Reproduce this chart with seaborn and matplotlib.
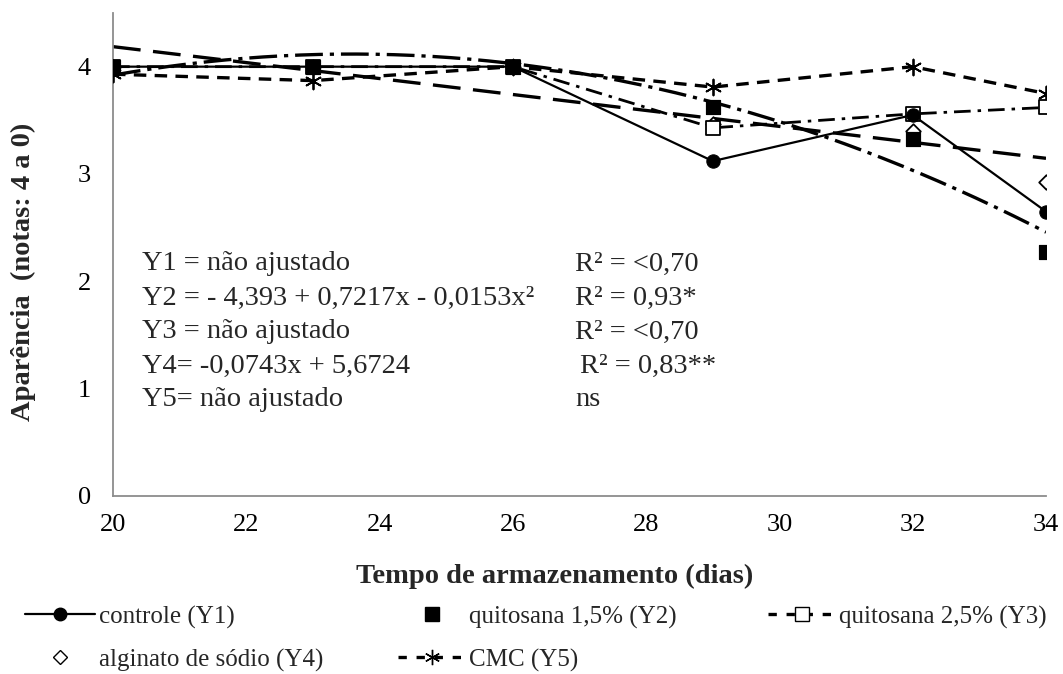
import numpy as np
import pandas as pd
import matplotlib
matplotlib.use("Agg")
import matplotlib.pyplot as plt
from matplotlib.lines import Line2D
import seaborn as sns

# ---------------- data ----------------
days = [20, 23, 26, 29, 32, 34]
controle = [4.00, 4.00, 4.00, 3.12, 3.55, 2.65]
quitosana15 = [4.00, 4.00, 4.00, 3.62, 3.33, 2.27]
quitosana25 = [4.00, 4.00, 4.00, 3.43, 3.56, 3.62]
alginato = [4.00, 4.00, 4.00, 3.47, 3.40, 2.93]
cmc = [3.93, 3.87, 4.00, 3.81, 4.00, 3.75]

# fitted equations shown on the chart
y2_coef = [-4.393, 0.7217, -0.0153]   # a + b x + c x^2
y4_coef = [5.6724, -0.0743]           # a + b x

eq_left = ["Y1 = não ajustado",
           "Y2 = - 4,393 + 0,7217x - 0,0153x²",
           "Y3 = não ajustado",
           "Y4= -0,0743x + 5,6724",
           "Y5= não ajustado"]
eq_right = ["R² = <0,70", "R² = 0,93*", "R² = <0,70", "R² = 0,83**", "ns"]

labels = ["controle (Y1)", "quitosana 1,5% (Y2)", "quitosana 2,5% (Y3)",
          "alginato de sódio (Y4)", "CMC (Y5)"]

# ---------------- style ----------------
sns.set_theme(style="white")
plt.rcParams['font.family'] = ['Liberation Serif', 'DejaVu Serif']
plt.rcParams['lines.scale_dashes'] = False

W, H = 1063, 674
fig = plt.figure(figsize=(W/100, H/100), dpi=100)
ax = fig.add_axes([113/W, 1-496/H, (1046-113)/W, (496-13)/H])

xfit = np.linspace(20, 34, 200)
fit_df = pd.DataFrame({"x": xfit})
fit_df["y2"] = y2_coef[0] + y2_coef[1]*fit_df["x"] + y2_coef[2]*fit_df["x"]**2
fit_df["y4"] = y4_coef[0] + y4_coef[1]*fit_df["x"]

# fitted lines
sns.lineplot(x=fit_df["x"], y=fit_df["y2"], ax=ax, color="black", lw=2.4)
ax.lines[-1].set_dashes((20, 5, 3, 5))
sns.lineplot(x=fit_df["x"], y=fit_df["y4"], ax=ax, color="black", lw=2.4)
ax.lines[-1].set_dashes((20, 9))

# connecting lines
sns.lineplot(x=days, y=cmc, ax=ax, color="black", lw=2.4)
ax.lines[-1].set_dashes((9, 6))
sns.lineplot(x=days, y=quitosana25, ax=ax, color="black", lw=2.0)
ax.lines[-1].set_dashes((12, 5, 2.5, 5))
sns.lineplot(x=days, y=controle, ax=ax, color="black", lw=1.6)

# markers
sns.scatterplot(x=days, y=cmc, ax=ax, marker=(6, 2, 0), s=130, color="black",
                linewidth=1.3, zorder=5)
sns.scatterplot(x=days, y=alginato, ax=ax, marker="D", s=55, facecolor="white",
                edgecolor="black", linewidth=1.3, zorder=5)
sns.scatterplot(x=days, y=quitosana25, ax=ax, marker="s", s=115, facecolor="white",
                edgecolor="black", linewidth=1.3, zorder=6)
sns.scatterplot(x=days, y=quitosana15, ax=ax, marker="s", s=115, color="black",
                edgecolor="black", zorder=7)
sns.scatterplot(x=days, y=controle, ax=ax, marker="o", s=92, color="black",
                edgecolor="black", zorder=8)

# axes
ax.set_xlim(20, 34)
ax.set_ylim(0, 4.5)
ax.set_xticks(range(20, 35, 2))
ax.set_yticks([0, 1, 2, 3, 4])
for s in ["top", "right"]:
    ax.spines[s].set_visible(False)
for s in ["left", "bottom"]:
    ax.spines[s].set_color("#8c8c8c")
    ax.spines[s].set_linewidth(1.3)
ax.tick_params(axis="both", direction="out", length=6, width=1.2, color="#8c8c8c",
               labelsize=19, labelcolor="black")
ax.tick_params(axis="y", pad=10)
ax.tick_params(axis="x", pad=7)
ax.set_xlabel("Tempo de armazenamento (dias)", fontsize=20.5, fontweight="bold")
ax.set_ylabel("Aparência  (notas: 4 a 0)", fontsize=20.5, fontweight="bold")
ax.xaxis.set_label_coords((555-113)/(1046-113), -(576-496)/(496-13))
ax.yaxis.set_label_coords((23-113)/(1046-113), (496-272)/(496-13))
ax.xaxis.label.set_va("center")
ax.yaxis.label.set_va("center")

# equations
for i, (a, b) in enumerate(zip(eq_left, eq_right)):
    yy = 1 - (264 + i*34)/H
    fig.text(142/W, yy, a, fontsize=20.5, va="center", ha="left")
    xr = 580 if i == 3 else 575
    fig.text(xr/W, yy, b, fontsize=20.5, va="center", ha="left")

# legend (one per entry, placed like the original)
handles = [
    Line2D([], [], color="black", lw=1.6, marker="o", markersize=9),
    Line2D([], [], color="none", marker="s", markersize=10, markerfacecolor="black",
           markeredgecolor="black"),
    Line2D([], [], color="black", lw=2.4, dashes=(6, 7), marker="s", markersize=10,
           markerfacecolor="white", markeredgecolor="black"),
    Line2D([], [], color="none", marker="D", markersize=7, markerfacecolor="white",
           markeredgecolor="black"),
    Line2D([], [], color="black", lw=2.4, dashes=(6, 7), marker=(6, 2, 0),
           markersize=11),
]
# (left x of handle, y centre, handle length in font units)
pos = [(25, 617, 2.8), (398, 617, 2.7), (768, 617, 2.7), (25, 660, 2.8), (398, 660, 2.7)]
for h, lab, (px, py, hl) in zip(handles, labels, pos):
    fig.legend([h], [lab], loc="center left", bbox_to_anchor=(px/W, 1-py/H),
               frameon=False, fontsize=18, handlelength=hl, handletextpad=0.15,
               borderpad=0, borderaxespad=0)

fig.savefig("out.png", dpi=100)
